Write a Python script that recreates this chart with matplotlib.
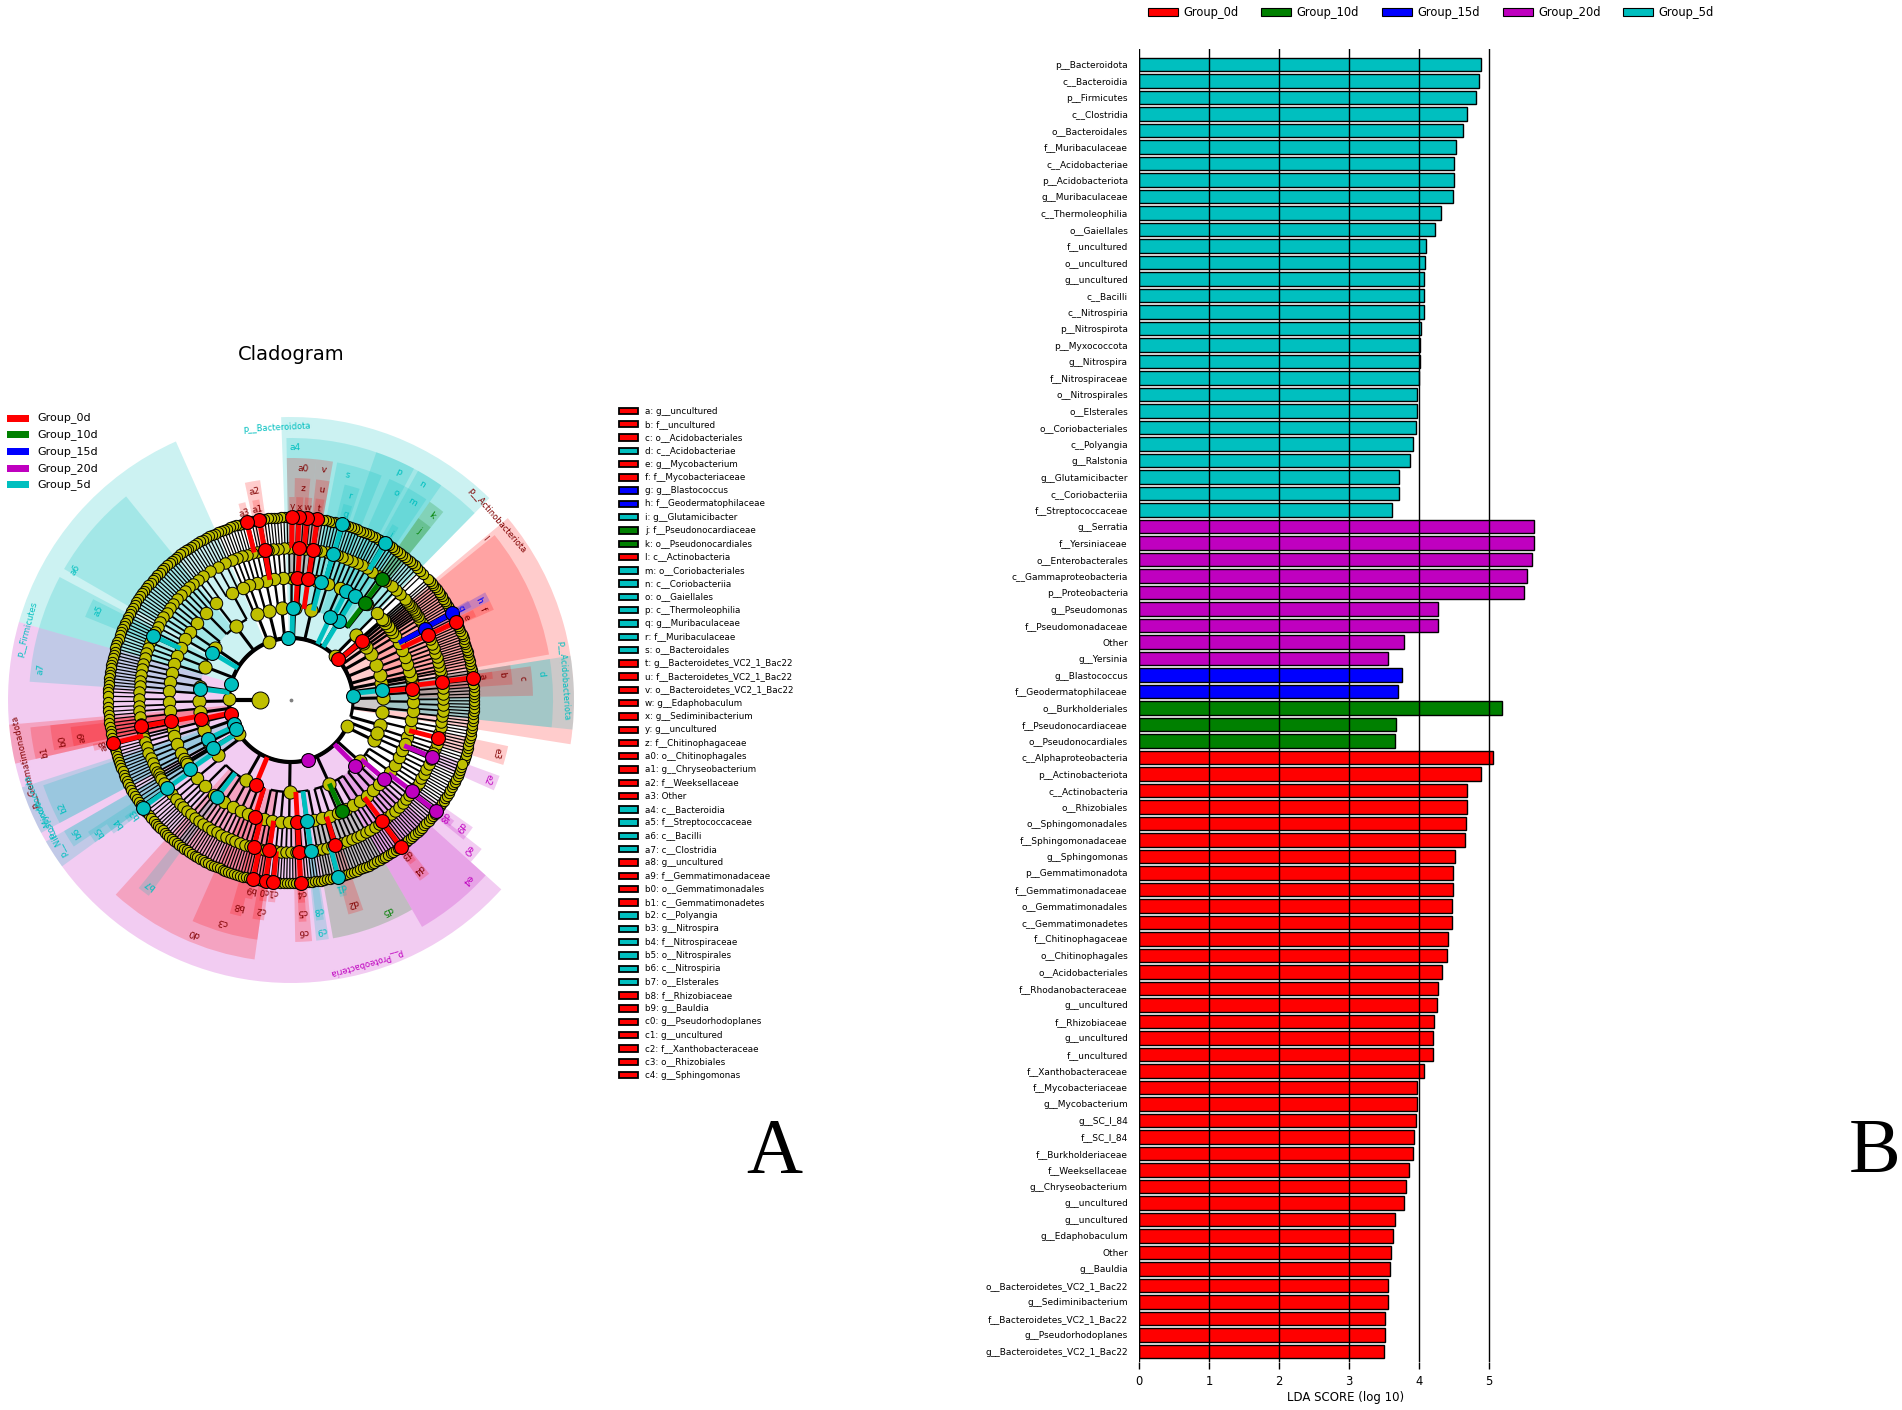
import numpy as np
import matplotlib.pyplot as plt
from matplotlib.patches import Wedge, Rectangle, Patch
from matplotlib.collections import LineCollection

# ---------------- data ----------------
group_keys = ["0d", "10d", "15d", "20d", "5d"]
group_labels = ["Group_0d", "Group_10d", "Group_15d", "Group_20d", "Group_5d"]
group_colors = {"0d": "r", "10d": "g", "15d": "b", "20d": "m", "5d": "c"}
label_colors = {"0d": "#800000", "10d": "g", "15d": "b", "20d": "m", "5d": "c"}

# LDA scores, top to bottom
taxa_5d = ["p__Bacteroidota", "c__Bacteroidia", "p__Firmicutes", "c__Clostridia", "o__Bacteroidales",
           "f__Muribaculaceae", "c__Acidobacteriae", "p__Acidobacteriota", "g__Muribaculaceae",
           "c__Thermoleophilia", "o__Gaiellales", "f__uncultured", "o__uncultured", "g__uncultured",
           "c__Bacilli", "c__Nitrospiria", "p__Nitrospirota", "p__Myxococcota", "g__Nitrospira",
           "f__Nitrospiraceae", "o__Nitrospirales", "o__Elsterales", "o__Coriobacteriales",
           "c__Polyangia", "g__Ralstonia", "g__Glutamicibacter", "c__Coriobacteriia", "f__Streptococcaceae"]
lda_5d = [4.88, 4.86, 4.82, 4.68, 4.63, 4.53, 4.50, 4.50, 4.48, 4.32, 4.23, 4.10, 4.08, 4.07,
          4.07, 4.07, 4.03, 4.02, 4.01, 4.00, 3.97, 3.97, 3.95, 3.92, 3.87, 3.72, 3.72, 3.61]

taxa_20d = ["g__Serratia", "f__Yersiniaceae", "o__Enterobacterales", "c__Gammaproteobacteria",
            "p__Proteobacteria", "g__Pseudomonas", "f__Pseudomonadaceae", "Other", "g__Yersinia"]
lda_20d = [5.64, 5.64, 5.62, 5.54, 5.50, 4.27, 4.27, 3.79, 3.56]

taxa_15d = ["g__Blastococcus", "f__Geodermatophilaceae"]
lda_15d = [3.76, 3.70]

taxa_10d = ["o__Burkholderiales", "f__Pseudonocardiaceae", "o__Pseudonocardiales"]
lda_10d = [5.19, 3.67, 3.66]

taxa_0d = ["c__Alphaproteobacteria", "p__Actinobacteriota", "c__Actinobacteria", "o__Rhizobiales",
           "o__Sphingomonadales", "f__Sphingomonadaceae", "g__Sphingomonas", "p__Gemmatimonadota",
           "f__Gemmatimonadaceae", "o__Gemmatimonadales", "c__Gemmatimonadetes", "f__Chitinophagaceae",
           "o__Chitinophagales", "o__Acidobacteriales", "f__Rhodanobacteraceae", "g__uncultured",
           "f__Rhizobiaceae", "g__uncultured", "f__uncultured", "f__Xanthobacteraceae",
           "f__Mycobacteriaceae", "g__Mycobacterium", "g__SC_I_84", "f__SC_I_84", "f__Burkholderiaceae",
           "f__Weeksellaceae", "g__Chryseobacterium", "g__uncultured", "g__uncultured", "g__Edaphobaculum",
           "Other", "g__Bauldia", "o__Bacteroidetes_VC2_1_Bac22", "g__Sediminibacterium",
           "f__Bacteroidetes_VC2_1_Bac22", "g__Pseudorhodoplanes", "g__Bacteroidetes_VC2_1_Bac22"]
lda_0d = [5.06, 4.89, 4.69, 4.69, 4.67, 4.66, 4.52, 4.48, 4.48, 4.47, 4.47, 4.41, 4.40, 4.33,
          4.27, 4.26, 4.21, 4.20, 4.20, 4.07, 3.97, 3.97, 3.96, 3.93, 3.92, 3.85, 3.82, 3.79,
          3.66, 3.63, 3.60, 3.59, 3.56, 3.55, 3.52, 3.51, 3.50]

# cladogram key (letter -> taxon, group)
key_codes = ["a", "b", "c", "d", "e", "f", "g", "h", "i", "j", "k", "l", "m", "n", "o", "p", "q",
             "r", "s", "t", "u", "v", "w", "x", "y", "z", "a0", "a1", "a2", "a3", "a4", "a5", "a6",
             "a7", "a8", "a9", "b0", "b1", "b2", "b3", "b4", "b5", "b6", "b7", "b8", "b9", "c0",
             "c1", "c2", "c3", "c4"]
key_names = ["g__uncultured", "f__uncultured", "o__Acidobacteriales", "c__Acidobacteriae",
             "g__Mycobacterium", "f__Mycobacteriaceae", "g__Blastococcus", "f__Geodermatophilaceae",
             "g__Glutamicibacter", "f__Pseudonocardiaceae", "o__Pseudonocardiales", "c__Actinobacteria",
             "o__Coriobacteriales", "c__Coriobacteriia", "o__Gaiellales", "c__Thermoleophilia",
             "g__Muribaculaceae", "f__Muribaculaceae", "o__Bacteroidales", "g__Bacteroidetes_VC2_1_Bac22",
             "f__Bacteroidetes_VC2_1_Bac22", "o__Bacteroidetes_VC2_1_Bac22", "g__Edaphobaculum",
             "g__Sediminibacterium", "g__uncultured", "f__Chitinophagaceae", "o__Chitinophagales",
             "g__Chryseobacterium", "f__Weeksellaceae", "Other", "c__Bacteroidia", "f__Streptococcaceae",
             "c__Bacilli", "c__Clostridia", "g__uncultured", "f__Gemmatimonadaceae",
             "o__Gemmatimonadales", "c__Gemmatimonadetes", "c__Polyangia", "g__Nitrospira",
             "f__Nitrospiraceae", "o__Nitrospirales", "c__Nitrospiria", "o__Elsterales",
             "f__Rhizobiaceae", "g__Bauldia", "g__Pseudorhodoplanes", "g__uncultured",
             "f__Xanthobacteraceae", "o__Rhizobiales", "g__Sphingomonas"]
key_groups = ["0d", "0d", "0d", "5d", "0d", "0d", "15d", "15d", "5d", "10d", "10d", "0d", "5d", "5d",
              "5d", "5d", "5d", "5d", "5d", "0d", "0d", "0d", "0d", "0d", "0d", "0d", "0d", "0d",
              "0d", "0d", "5d", "5d", "5d", "5d", "0d", "0d", "0d", "0d", "5d", "5d", "5d", "5d",
              "5d", "5d", "0d", "0d", "0d", "0d", "0d", "0d", "0d"]

# cladogram tree skeleton: per phylum angular span (deg), node angle and taxa counts per rank
tree_lo = [-20, 12, 43, 47, 108, 114, 178, 183, 195, 212, 222, 330]
tree_hi = [12, 42, 47, 108, 114, 178, 183, 195, 212, 222, 330, 340]
tree_ang = [4, 41, 45, 93, 111, 165, 179, 194, 203, 213, 286, 335]
tree_nc = [5, 6, 1, 5, 1, 4, 1, 2, 3, 1, 4, 2]
tree_no = [10, 12, 1, 12, 2, 12, 1, 3, 6, 2, 26, 3]
tree_nf = [16, 22, 2, 28, 3, 28, 2, 6, 10, 4, 55, 6]
tree_ng = [30, 34, 3, 60, 6, 60, 3, 10, 16, 8, 110, 10]

# highlighted clades: label, group, rank (1 phylum .. 5 genus), wedge start/end, node angle
hl_label = ["p__Bacteroidota", "p__Actinobacteriota", "p__Acidobacteriota", "p__Firmicutes",
            "p__Proteobacteria", "p__Gemmatimonadota", "p__Myxococcota", "p__Nitrospirota",
            "a4", "l", "n", "p", "d", "a6", "a7", "b1", "b2", "b6", "d0", "e4",
            "a0", "v", "s", "o", "m", "k", "c", "b0", "b5", "b7", "c3", "c6", "c9", "d5", "e0",
            "z", "u", "r", "j", "h", "f", "b", "a5", "a2", "a9", "b4", "b8", "c2", "c5", "c8",
            "d2", "d4", "d9", "e2", "e3",
            "t", "w", "x", "y", "q", "i", "g", "e", "a", "a1", "a3", "a8", "b3", "b9", "c0",
            "c1", "c4", "d1", "d3", "d8"]
hl_group = ["5d", "0d", "5d", "5d", "20d", "0d", "5d", "5d",
            "5d", "0d", "5d", "5d", "5d", "5d", "5d", "0d", "5d", "5d", "0d", "20d",
            "0d", "0d", "5d", "5d", "5d", "10d", "0d", "0d", "5d", "5d", "0d", "0d", "5d", "10d", "20d",
            "0d", "0d", "5d", "10d", "15d", "0d", "0d", "5d", "0d", "0d", "5d", "0d", "0d", "0d", "5d",
            "0d", "0d", "20d", "20d", "0d",
            "0d", "0d", "0d", "0d", "5d", "5d", "15d", "0d", "0d", "0d", "0d", "0d", "5d", "0d", "0d",
            "0d", "0d", "5d", "0d", "20d"]
hl_rank = [1] * 8 + [2] * 12 + [3] * 15 + [4] * 20 + [5] * 20
hl_lo = [45.5, -9, -6, 114, 164, 185, 198, 210,
         45.5, 10, 55, 62, -6, 129, 152, 186, 199, 210, 228, 300,
         84, 80, 68, 61, 56, 51, 1, 186, 213, 231, 246, 271, 276, 280, 318,
         85, 80, 72, 51, 26.5, 24, 4, 153, 98, 187, 214, 254, 260, 272, 276.5, 285, 305.5, 321, 336, 343,
         80.5, 84, 86.5, 89, 72.5, 58, 27.3, 24.3, 6, 99, 103, 192.5, 215, 257, 261, 263.5, 272, 284,
         306, 321.5]
hl_hi = [92, 40, 9, 164, 318, 193, 208, 216,
         91, 39, 61, 71, 9, 150, 176, 193, 208, 214, 262, 318,
         91, 84, 79, 66, 61, 55, 8, 192, 216, 234, 262, 275, 279, 300, 322,
         89, 83.5, 76, 55, 29, 26.5, 9, 158, 102, 192, 217, 257, 263, 274, 278.5, 289, 308.5, 325, 340, 348,
         83, 86, 88.5, 90.5, 75, 60, 29.3, 26.3, 8, 101, 105, 194.5, 217, 259, 263, 265.5, 274, 286,
         308, 323.5]
hl_ang = [93, 41, 4, 165, 286, 193, 203, 208,
          89, 39.8, 58.7, 64.6, 6, 149, 173, 192, 205, 211.7, 247.4, 314.5,
          87, 81.9, 76, 63, 58.6, 52.7, 5.4, 190, 214.5, 232.7, 252.8, 273, 277.5, 294.6, 319.7,
          86.8, 81.8, 73.9, 53, 27.9, 25.3, 6.8, 155, 100, 190, 215.5, 255.8, 261.8, 273, 277.5,
          287, 307, 323, 338, 345.5,
          81.7, 85, 87.5, 89.7, 73.7, 59, 28.3, 25.3, 7, 100, 104, 193.6, 216, 258, 262, 264.5, 273,
          285, 306.8, 322.5]

# ---------------- figure ----------------
W, H = 1902, 1410
fig = plt.figure(figsize=(W / 100, H / 100), dpi=100)


def px_axes(left, top, right, bottom):
    return fig.add_axes([left / W, 1 - bottom / H, (right - left) / W, (bottom - top) / H])


# ---------- B: LDA bar chart ----------
names = taxa_5d + taxa_20d + taxa_15d + taxa_10d + taxa_0d
scores = lda_5d + lda_20d + lda_15d + lda_10d + lda_0d
groups = (["5d"] * len(taxa_5d) + ["20d"] * len(taxa_20d) + ["15d"] * len(taxa_15d)
          + ["10d"] * len(taxa_10d) + ["0d"] * len(taxa_0d))
ypos = np.arange(len(names))

axb = px_axes(1139, 49, 1139 + 5.9 * 70, 1362)
axb.barh(ypos, scores, height=0.8, color=[group_colors[g] for g in groups],
         edgecolor="black", linewidth=1.0, zorder=1)
axb.set_axisbelow(False)
axb.xaxis.grid(True, color="black", linewidth=1.0, linestyle="-")
for s in axb.spines.values():
    s.set_visible(False)
axb.set_xlim(0, 5.9)
axb.set_ylim(len(names) - 1 + 0.64, -0.945)
axb.set_xticks([0, 1, 2, 3, 4, 5])
axb.set_yticks(ypos)
axb.set_yticklabels(names)
axb.tick_params(axis="x", length=5, width=1, pad=4.5, labelsize=8.3)
axb.tick_params(axis="y", length=0, pad=8, labelsize=6.5)
axb.set_xlabel("LDA SCORE (log 10)", fontsize=8.5, labelpad=2)

handles = [Patch(facecolor=group_colors[k], edgecolor="black", linewidth=0.8, label=l)
           for k, l in zip(group_keys, group_labels)]
fig.legend(handles=handles, loc="upper center", bbox_to_anchor=(1431 / W, 1 - 1 / H), ncol=5,
           frameon=False, fontsize=8.3, handlelength=2.6, handleheight=0.7, handletextpad=0.45,
           columnspacing=2.0, borderaxespad=0)

# ---------- A: cladogram ----------
axc = px_axes(0, 380, 600, 1020)
axc.set_xlim(-291, 309)
axc.set_ylim(-320, 320)
axc.axis("off")

R = [31, 62, 92, 122, 152, 183]         # kingdom, phylum, class, order, family, genus
R_OUT = [283, 262, 242, 222, 203]        # outer edge of highlight per rank
LW = [2.2, 1.7, 1.3, 0.9]


def pol(r, a):
    t = np.radians(a)
    return r * np.cos(t), r * np.sin(t)


def arc(r, a0, a1):
    t = np.radians(np.linspace(a0, a1, int(abs(a1 - a0) * 3) + 2))
    return np.column_stack([r * np.cos(t), r * np.sin(t)])


# highlight wedges, outer ranks first
for lab, g, rk, lo, hi in zip(hl_label, hl_group, hl_rank, hl_lo, hl_hi):
    axc.add_patch(Wedge((0, 0), R_OUT[rk - 1], lo, hi, width=R_OUT[rk - 1] - R[rk],
                        facecolor=group_colors[g], alpha=0.2, edgecolor="none", zorder=1))

segs = [[] for _ in range(4)]
nodes = [[] for _ in range(5)]
for lo, hi, pa, nc, no, nf, ng in zip(tree_lo, tree_hi, tree_ang, tree_nc, tree_no, tree_nf, tree_ng):
    step = (hi - lo) / ng
    angs = [lo + step * (np.arange(ng) + 0.5)]
    kids = []
    for n in (nf, no, nc):
        split = np.array_split(np.arange(len(angs[0])), n)
        kids.insert(0, split)
        angs.insert(0, np.array([angs[0][s].mean() for s in split]))
    angs.insert(0, np.array([pa]))
    kids.insert(0, [np.arange(nc)])
    for k in range(4):
        for i, ch in enumerate(kids[k]):
            ca = angs[k + 1][ch]
            p = angs[k][i]
            segs[k].append(arc(R[k + 1], min(ca.min(), p), max(ca.max(), p)))
            for a in ca:
                segs[k].append(np.array([pol(R[k + 1], a), pol(R[k + 2], a)]))
    for k in range(5):
        nodes[k].extend(angs[k])

# central ring and kingdom
axc.add_collection(LineCollection([arc(R[1], min(tree_ang), max(tree_ang))], colors="black",
                                  linewidths=3, zorder=2))
axc.plot(*zip(pol(R[0], 180), pol(R[1], 180)), color="black", lw=3, zorder=2)
for k in range(4):
    axc.add_collection(LineCollection(segs[k], colors="black", linewidths=LW[k], zorder=2))

node_s = [85, 90, 80, 68, 55]
for k in range(5):
    a = np.array(nodes[k])
    x, y = pol(R[k + 1], a)
    axc.scatter(x, y, s=node_s[k], c="y", edgecolors="black", linewidths=0.7, zorder=3)
axc.scatter(*pol(R[0], 180), s=150, c="y", edgecolors="black", linewidths=0.7, zorder=3)
axc.scatter([0], [0], s=3, c="grey", zorder=3)

# biomarker nodes and their labels
for lab, g, rk, a in zip(hl_label, hl_group, hl_rank, hl_ang):
    col = group_colors[g]
    if rk > 1:
        axc.plot(*zip(pol(R[rk - 1], a), pol(R[rk], a)), color=col, lw=3.5,
                 solid_capstyle="butt", zorder=4)
    axc.scatter(*pol(R[rk], a), s=100, c=col, edgecolors="black", linewidths=0.8, zorder=5)
    tx, ty = pol(R_OUT[rk - 1] - 10, a)
    axc.text(tx, ty, lab, rotation=a - 90, rotation_mode="anchor", ha="center", va="center",
             color=label_colors[g], fontsize=6 if rk == 1 else 6.5, zorder=6)

fig.text(291 / W, 1 - 354 / H, "Cladogram", ha="center", va="center", fontsize=14)

# ---------- overlay: cladogram legends and panel letters ----------
ov = fig.add_axes([0, 0, 1, 1])
ov.set_xlim(0, W)
ov.set_ylim(H, 0)
ov.axis("off")

for i, (k, l) in enumerate(zip(group_keys, group_labels)):
    y = 418 + 16.7 * i
    ov.add_patch(Rectangle((7, y - 3.5), 22, 7, facecolor=group_colors[k], edgecolor="none"))
    ov.text(37.5, y, l, va="center", ha="left", fontsize=8)

for i, (c, n, g) in enumerate(zip(key_codes, key_names, key_groups)):
    y = 411 + 13.28 * i
    ov.add_patch(Rectangle((618.5, y - 3.2), 19.5, 6.4, facecolor=group_colors[g],
                           edgecolor="black", linewidth=1.3))
    ov.text(645, y, f"{c}: {n}", va="center", ha="left", fontsize=6.3)

ov.text(774, 1172, "A", fontsize=56, family="Liberation Serif", ha="center", va="baseline")
ov.text(1875, 1172, "B", fontsize=56, family="Liberation Serif", ha="center", va="baseline")

fig.savefig("out.png", dpi=100)
